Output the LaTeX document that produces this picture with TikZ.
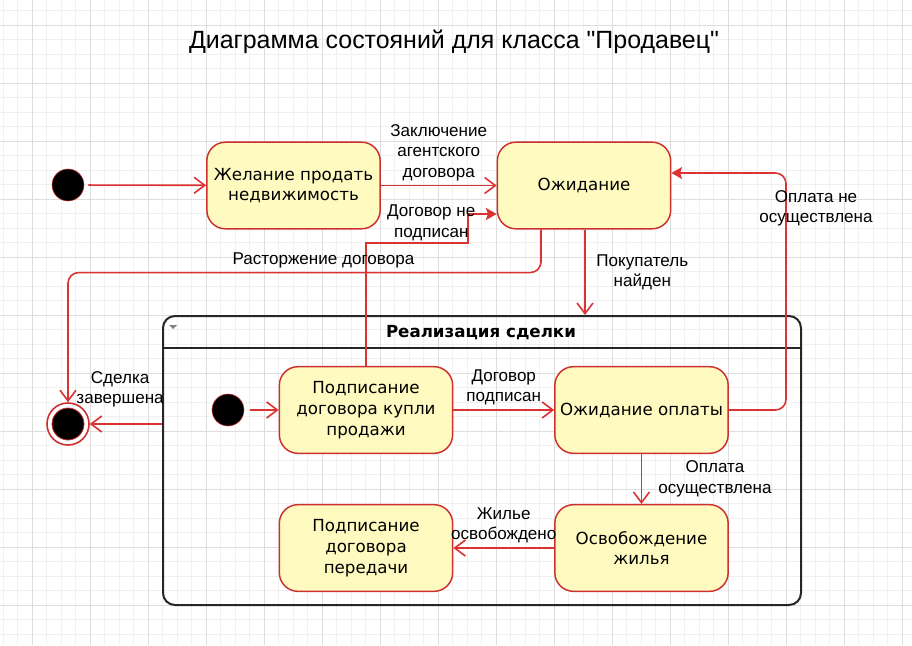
\documentclass[tikz,border=0pt]{standalone}
\usepackage{fontspec}
\setmainfont{Liberation Sans}[Ligatures=TeXOff]
\newfontfamily\nodefont{DejaVu Sans}
\usetikzlibrary{arrows.meta, calc}
\definecolor{edgered}{HTML}{DC3232}
\definecolor{nodered}{HTML}{CC3030}
\definecolor{nodefill}{HTML}{FFFAC0}
\definecolor{gridminor}{HTML}{F0F0F0}
\definecolor{gridmajor}{HTML}{DDDDDD}

\begin{document}
\begin{tikzpicture}[x=0.75pt, y=-0.75pt,
    >={Straight Barb[length=8pt,width=12pt]},
    stbox/.style={draw=nodered, fill=nodefill, line width=1.1pt, rounded corners=14pt,
      minimum width=130pt, minimum height=65pt, inner sep=0pt, align=center,
      font=\nodefont\fontsize{12.5}{15.5}\selectfont},
    startdot/.style={circle, draw=nodered, fill=black, minimum size=24pt, inner sep=0pt},
    enddot/.style={circle, draw=nodered, fill=white, line width=1.2pt, minimum size=31.5pt,
      inner sep=0pt,
      path picture={\filldraw[fill=black, draw=nodered, line width=0.6pt]
        (path picture bounding box.center) circle (12pt);}},
    trans/.style={draw=edgered, line width=1.2pt, ->},
    solid tip/.style={-{Stealth[length=8pt,width=9pt,inset=1.5pt]}},
    lbl/.style={font=\fontsize{12.8}{15.4}\selectfont, align=center, inner sep=0pt},
    composite/.style={draw=black!85, line width=1.5pt, rounded corners=9pt,
      minimum width=478.5pt, minimum height=216.75pt, inner sep=0pt}]

  % background grid
  \useasboundingbox (0,0) rectangle (912,645);
  \fill[white] (0,0) rectangle (912,645);
  \foreach \i in {0,...,62}
    \draw[gridminor, line width=0.5pt] ({3+14.5*\i},0) -- ({3+14.5*\i},645);
  \foreach \j in {0,...,43}
    \draw[gridminor, line width=0.5pt] (0,{10.5+14.5*\j}) -- (912,{10.5+14.5*\j});
  \foreach \i in {0,...,15}
    \draw[gridmajor, line width=0.5pt] ({32+58*\i},0) -- ({32+58*\i},645);
  \foreach \j in {0,...,10}
    \draw[gridmajor, line width=0.5pt] (0,{25+58*\j}) -- (912,{25+58*\j});

  \node[lbl, font=\fontsize{18.7}{23}\selectfont] (title) at (454,42)
    {Диаграмма состояний для класса "Продавец"};

  % outer states
  \node[startdot] (start) at (68,185) {};
  \node[stbox] (wish) at (293.5,185.5) {Желание продать\\недвижимость};
  \node[stbox] (wait) at (584,185.5) {Ожидание};
  \node[enddot] (fin) at (68,424) {};

  % composite state
  \node[composite] (deal) at (482,460.5) {};
  \node[font=\nodefont\bfseries\fontsize{12.5}{15}\selectfont] (dealname) at (481,333)
    {Реализация сделки};
  \draw[black!85, line width=1.5pt] ($(deal.north west)+(0,33)$) coordinate (hdr)
    -- (hdr -| deal.east);
  \fill[gray] ($(deal.north west)+(7,10)$) -- ++(8,0) -- ++(-4,4) -- cycle;

  \node[startdot] (substart) at (228,410) {};
  \node[stbox] (sign) at (366,410) {Подписание\\договора купли\\продажи};
  \node[stbox] (paywait) at (641.5,410) {Ожидание оплаты};
  \node[stbox] (vacate) at (641.5,548) {Освобождение\\жилья};
  \node[stbox] (handover) at (366,548) {Подписание\\договора\\передачи};

  % transitions
  \draw[trans, shorten <=3pt] (start) -- (wish);
  \draw[trans] (wish) -- node[lbl, above=3pt] {Заключение\\агентского\\договора} (wait);

  \coordinate (unsigned) at (468,243);
  \coordinate (waitin) at ($(wait.west)+(0,28.5)$);
  \draw[trans, solid tip] (sign.north) |- node[lbl, above=1pt, pos=0.82]
    {Договор не\\подписан} (unsigned) |- (waitin);

  \coordinate (cancel) at ($(wait.south)+(-43,43)$);
  \draw[trans, rounded corners=8pt] ($(wait.south)+(-43,0)$) -- (cancel)
    -- node[lbl, above=3pt, pos=0.46] {Расторжение договора} (cancel -| fin) -- (fin);

  \coordinate (found) at ($(wait.south)+(1,0)$);
  \draw[trans] (found) -- node[lbl, right=8pt] {Покупатель\\найден} (found |- deal.north);

  \coordinate (unpaid) at (786,173);
  \draw[trans, solid tip, rounded corners=8pt] (paywait.east) -| node[lbl, pos=0.926, xshift=22.5pt]
    {Оплата не\\осуществлена} (unpaid) -- (unpaid -| wait.east);

  \draw[trans] (deal.west |- fin) -- node[lbl, above=12pt, pos=0.58] {Сделка\\завершена} (fin);

  \draw[trans, shorten <=4pt] (substart) -- (sign);
  \draw[trans] (sign) -- node[lbl, above=3pt] {Договор\\подписан} (paywait);
  \draw[trans] (paywait) -- node[lbl, right=12pt] {Оплата\\осуществлена} (vacate);
  \draw[trans] (vacate) -- node[lbl, above=3pt] {Жилье\\освобождено} (handover);
\end{tikzpicture}
\end{document}
